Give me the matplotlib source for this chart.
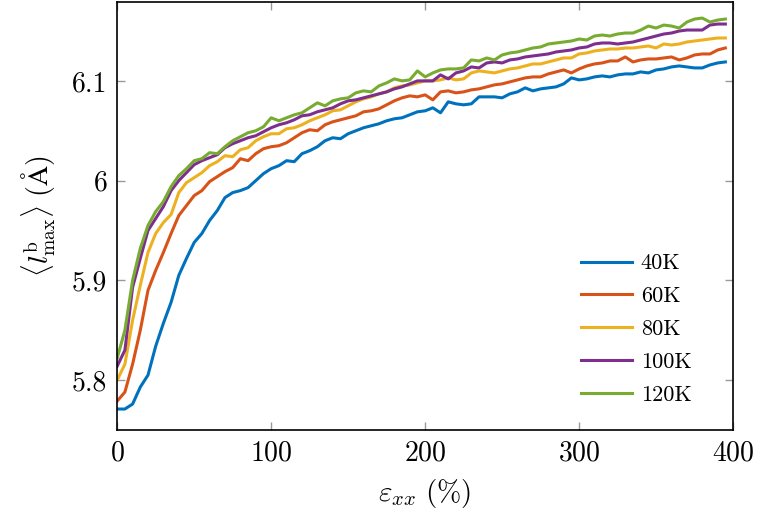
"""Longest bond length vs strain for several temperatures"""
import matplotlib
matplotlib.use('Agg')
import matplotlib.pyplot as plt
from matplotlib.ticker import FixedLocator, FuncFormatter

plt.rcParams['font.family'] = 'cmr10'
plt.rcParams['mathtext.fontset'] = 'cm'
plt.rcParams['axes.formatter.use_mathtext'] = True

# strain (%), one sample every 5 %
strain = list(range(0, 400, 5))

l_40K = [5.771, 5.771, 5.776, 5.793, 5.805, 5.834, 5.857, 5.878, 5.905, 5.922,
         5.938, 5.947, 5.960, 5.970, 5.983, 5.988, 5.990, 5.993, 6.000, 6.007,
         6.012, 6.015, 6.020, 6.019, 6.027, 6.030, 6.034, 6.040, 6.043, 6.042,
         6.047, 6.050, 6.053, 6.055, 6.057, 6.060, 6.062, 6.063, 6.066, 6.069,
         6.070, 6.073, 6.068, 6.079, 6.077, 6.076, 6.077, 6.084, 6.084, 6.084,
         6.083, 6.087, 6.089, 6.093, 6.090, 6.092, 6.093, 6.094, 6.097, 6.103,
         6.101, 6.102, 6.104, 6.105, 6.104, 6.106, 6.107, 6.107, 6.109, 6.108,
         6.111, 6.112, 6.114, 6.115, 6.114, 6.113, 6.113, 6.116, 6.118, 6.119]

l_60K = [5.779, 5.788, 5.816, 5.850, 5.890, 5.910, 5.928, 5.947, 5.965, 5.975,
         5.985, 5.990, 5.999, 6.004, 6.009, 6.013, 6.022, 6.020, 6.027, 6.032,
         6.034, 6.035, 6.038, 6.043, 6.048, 6.051, 6.050, 6.056, 6.059, 6.061,
         6.063, 6.065, 6.069, 6.070, 6.072, 6.076, 6.080, 6.083, 6.085, 6.084,
         6.086, 6.081, 6.089, 6.090, 6.088, 6.089, 6.091, 6.092, 6.094, 6.096,
         6.097, 6.099, 6.101, 6.103, 6.104, 6.104, 6.107, 6.109, 6.111, 6.108,
         6.112, 6.115, 6.117, 6.118, 6.120, 6.120, 6.124, 6.119, 6.121, 6.122,
         6.122, 6.123, 6.124, 6.121, 6.123, 6.126, 6.127, 6.127, 6.131, 6.133]

l_80K = [5.800, 5.816, 5.860, 5.895, 5.928, 5.947, 5.958, 5.966, 5.988, 5.998,
         6.003, 6.008, 6.015, 6.019, 6.025, 6.024, 6.031, 6.033, 6.040, 6.044,
         6.047, 6.047, 6.052, 6.053, 6.056, 6.060, 6.063, 6.066, 6.070, 6.071,
         6.075, 6.079, 6.082, 6.084, 6.087, 6.089, 6.093, 6.095, 6.096, 6.098,
         6.100, 6.100, 6.101, 6.103, 6.101, 6.102, 6.108, 6.110, 6.109, 6.108,
         6.110, 6.112, 6.113, 6.115, 6.117, 6.117, 6.119, 6.121, 6.123, 6.123,
         6.127, 6.128, 6.130, 6.131, 6.132, 6.132, 6.133, 6.133, 6.134, 6.135,
         6.133, 6.137, 6.136, 6.137, 6.139, 6.140, 6.141, 6.142, 6.143, 6.143]

l_100K = [5.814, 5.830, 5.893, 5.922, 5.950, 5.962, 5.974, 5.990, 6.000, 6.008,
          6.016, 6.020, 6.023, 6.026, 6.033, 6.037, 6.040, 6.043, 6.045, 6.049,
          6.053, 6.056, 6.058, 6.061, 6.065, 6.066, 6.069, 6.071, 6.073, 6.077,
          6.080, 6.081, 6.083, 6.085, 6.087, 6.089, 6.092, 6.094, 6.097, 6.100,
          6.100, 6.100, 6.106, 6.102, 6.108, 6.110, 6.114, 6.113, 6.118, 6.119,
          6.118, 6.121, 6.122, 6.124, 6.125, 6.126, 6.127, 6.129, 6.130, 6.131,
          6.133, 6.134, 6.137, 6.138, 6.138, 6.137, 6.138, 6.139, 6.141, 6.143,
          6.145, 6.147, 6.148, 6.150, 6.151, 6.151, 6.151, 6.156, 6.157, 6.157]

l_120K = [5.822, 5.850, 5.900, 5.932, 5.955, 5.969, 5.979, 5.994, 6.005, 6.012,
          6.020, 6.022, 6.028, 6.027, 6.034, 6.040, 6.044, 6.048, 6.050, 6.054,
          6.063, 6.060, 6.063, 6.066, 6.068, 6.073, 6.078, 6.075, 6.080, 6.082,
          6.083, 6.088, 6.090, 6.089, 6.095, 6.098, 6.102, 6.100, 6.101, 6.110,
          6.104, 6.108, 6.111, 6.112, 6.112, 6.113, 6.121, 6.120, 6.123, 6.121,
          6.126, 6.128, 6.129, 6.131, 6.133, 6.134, 6.137, 6.138, 6.139, 6.140,
          6.142, 6.141, 6.145, 6.146, 6.145, 6.147, 6.148, 6.148, 6.151, 6.155,
          6.153, 6.156, 6.155, 6.153, 6.159, 6.162, 6.163, 6.159, 6.161, 6.162]

series = [l_40K, l_60K, l_80K, l_100K, l_120K]
labels = ['40K', '60K', '80K', '100K', '120K']
colors = ['#0072BD', '#D95319', '#EDB120', '#7E2F8E', '#77AC30']

y_ticks = [5.8, 5.9, 6.0, 6.1]
y_ticklabels = ['5.8', '5.9', '6', '6.1']

fig = plt.figure(figsize=(7.66, 5.25), dpi=100)
ax = fig.add_axes([0.153, 0.181, 0.804, 0.815])

for valores, rotulo, cor in zip(series, labels, colors):
    ax.plot(strain, valores, color=cor, lw=2.2, label=rotulo)

ax.set_xlim(0, 400)
ax.set_ylim(5.75, 6.179)
ax.set_xticks([0, 100, 200, 300, 400])
ax.yaxis.set_major_locator(FixedLocator(y_ticks))
ax.yaxis.set_major_formatter(FuncFormatter(lambda v, p: y_ticklabels[y_ticks.index(round(v, 1))]))

# ticks para dentro, cinza, nos quatro lados
ax.tick_params(direction='in', length=6, width=1, color='#999999',
               top=True, right=True, labelsize=20, pad=7)
for s in ax.spines.values():
    s.set_linewidth(1.2)

ax.set_xlabel(r'$\varepsilon_{xx}\ (\%)$', fontsize=21, labelpad=8)
ax.set_ylabel(r'$\langle l^{\mathrm{b}}_{\mathrm{max}}\rangle\ (\mathrm{\AA})$', fontsize=20, labelpad=10)

ax.legend(loc='lower right', bbox_to_anchor=(0.965, 0.012), frameon=False,
          fontsize=16, handlelength=2.3, labelspacing=0.6, handletextpad=0.4)

fig.savefig('out.png', dpi=100)
